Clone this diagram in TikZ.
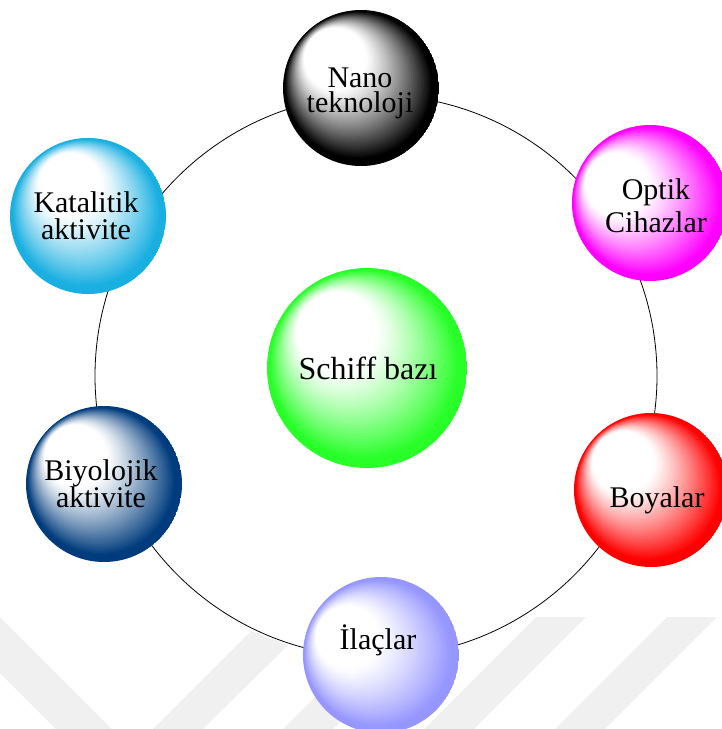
\documentclass[tikz,border=0pt]{standalone}
\usepackage{fontspec}
\setmainfont{Liberation Serif}
\usetikzlibrary{calc}
\definecolor{cNano}{RGB}{0,0,0}
\definecolor{cOpt}{RGB}{255,0,255}
\definecolor{cKat}{RGB}{25,175,225}
\definecolor{cBiy}{RGB}{0,60,125}
\definecolor{cBoy}{RGB}{255,0,0}
\definecolor{cIla}{RGB}{150,150,255}
\definecolor{cSch}{RGB}{40,255,40}
\definecolor{wm}{RGB}{240,240,240}
\newcommand\mytwoline[3]{\vtop{\baselineskip=#1\lineskiplimit=-100pt\lineskip=0pt\halign{\hfil##\hfil\cr #2\cr #3\cr}}}
\begin{document}
\begin{tikzpicture}[x=1pt,y=-1pt,
  ballg/.style n args={4}{circle,draw=none,inner sep=0pt,minimum size={2*#2},
    path picture={
      \foreach \i in {0,...,55}{
        \pgfmathsetmacro\myt{\i/56}
        \pgfmathsetmacro\myp{100*(max(0,min(1,(0.6-\myt)/0.55)))^1.2}
        \fill[#1!\myp!white] ($(path picture bounding box.center)+(\myt*#3*#2,\myt*#4*#2)$) circle[radius={#2*(1-\myt)}];
      }}},
  lbl/.style={anchor=base,inner sep=0pt,font=\fontsize{30}{30}\selectfont},
  ring/.style={draw=black,line width=0.8pt},
  wmband/.style={fill=wm,draw=none}]
\useasboundingbox (0,0) rectangle (721,729);
% faint watermark bands
\fill[wmband] (0,617) -- (112,729) -- (56,729) -- (0,673) -- cycle;
\fill[wmband] (153,729) -- (251,631) -- (288,645) -- (203,729) -- cycle;
\fill[wmband] (283,729) -- (395,617) -- (445,617) -- (333,729) -- cycle;
\fill[wmband] (424,729) -- (536,617) -- (586,617) -- (474,729) -- cycle;
\fill[wmband] (555,729) -- (667,617) -- (717,617) -- (605,729) -- cycle;
% ring
\coordinate (ringc) at (376,376);
\draw[ring] (ringc) circle[radius=281];
% balls
\node[ballg={cNano}{78}{-0.55}{-0.62}] (nano) at (361,88) {};
\node[ballg={cOpt}{78}{-0.72}{-0.4}] (opt) at (650,203) {};
\node[ballg={cKat}{78}{-0.38}{-0.68}] (kat) at (88,216) {};
\node[ballg={cBiy}{78}{-0.6}{-0.6}] (biy) at (104,484) {};
\node[ballg={cBoy}{77}{-0.6}{-0.6}] (boy) at (651,490) {};
\node[ballg={cIla}{78}{-0.72}{-0.38}] (ila) at (381,655) {};
\node[ballg={cSch}{100}{-0.5}{-0.6}] (sch) at (367,368) {};
% labels
\node[lbl] (tnano) at (360,87) {\mytwoline{25pt}{Nano}{teknoloji}};
\node[lbl] (topt) at (656,199) {\mytwoline{33pt}{Optik}{Cihazlar}};
\node[lbl] (tkat) at (86,212) {\mytwoline{27pt}{Katalitik}{aktivite}};
\node[lbl] (tbiy) at (101,480) {\mytwoline{27pt}{Biyolojik}{aktivite}};
\node[lbl] (tboy) at (657,507) {Boyalar};
\node[lbl] (tila) at (378,649) {İlaçlar};
\node[lbl,font=\fontsize{32}{32}\selectfont] (tsch) at (368,379) {Schiff bazı};
\end{tikzpicture}
\end{document}
